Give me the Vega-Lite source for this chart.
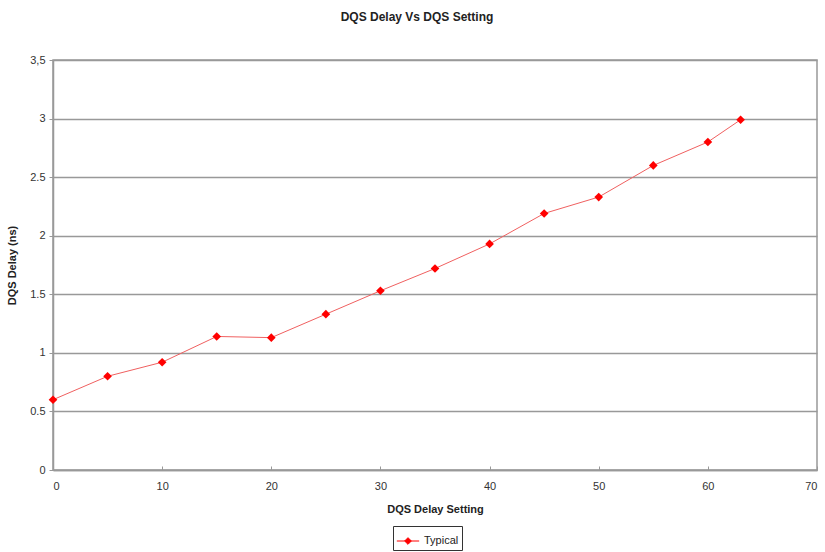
{
  "$schema": "https://vega.github.io/schema/vega-lite/v6.json",
  "autosize": {"type": "none"},
  "width": 764,
  "height": 410,
  "padding": {"left": 53, "top": 60, "right": 8, "bottom": 82},
  "background": "white",
  "title": {
    "text": "DQS Delay Vs DQS Setting",
    "font": "Liberation Sans",
    "fontSize": 12,
    "fontWeight": "bold",
    "color": "#222",
    "anchor": "middle",
    "dx": -18,
    "offset": 30
  },
  "config": {
    "view": {"stroke": "#999", "strokeWidth": 1.5},
    "axis": {
      "labelFont": "Liberation Sans",
      "labelFontSize": 11,
      "labelColor": "#333",
      "titleFont": "Liberation Sans",
      "titleFontSize": 11,
      "titleFontWeight": "bold",
      "titleColor": "#222",
      "domainColor": "#999",
      "domainWidth": 1.5,
      "tickColor": "#999"
    }
  },
  "data": {
    "values": [
      {"setting": 0, "delay": 0.60, "series": "Typical"},
      {"setting": 5, "delay": 0.80, "series": "Typical"},
      {"setting": 10, "delay": 0.92, "series": "Typical"},
      {"setting": 15, "delay": 1.14, "series": "Typical"},
      {"setting": 20, "delay": 1.13, "series": "Typical"},
      {"setting": 25, "delay": 1.33, "series": "Typical"},
      {"setting": 30, "delay": 1.53, "series": "Typical"},
      {"setting": 35, "delay": 1.72, "series": "Typical"},
      {"setting": 40, "delay": 1.93, "series": "Typical"},
      {"setting": 45, "delay": 2.19, "series": "Typical"},
      {"setting": 50, "delay": 2.33, "series": "Typical"},
      {"setting": 55, "delay": 2.60, "series": "Typical"},
      {"setting": 60, "delay": 2.80, "series": "Typical"},
      {"setting": 63, "delay": 2.99, "series": "Typical"}
    ]
  },
  "encoding": {
    "x": {
      "field": "setting",
      "type": "quantitative",
      "scale": {"domain": [0, 70], "nice": false, "zero": true},
      "axis": {
        "title": "DQS Delay Setting",
        "values": [0, 10, 20, 30, 40, 50, 60, 70],
        "grid": false,
        "tickSize": -4,
        "labelPadding": 14,
        "titlePadding": 12
      }
    },
    "y": {
      "field": "delay",
      "type": "quantitative",
      "scale": {"domain": [0, 3.5], "nice": false},
      "axis": {
        "title": "DQS Delay (ns)",
        "values": [0, 0.5, 1, 1.5, 2, 2.5, 3, 3.5],
        "grid": true,
        "gridColor": "#999",
        "gridWidth": 1.5,
        "gridOpacity": 1,
        "tickSize": 4,
        "labelPadding": 4,
        "titlePadding": 12,
        "labelExpr": "datum.value == 3.5 ? '3,5' : toString(datum.value)"
      }
    },
    "color": {
      "field": "series",
      "type": "nominal",
      "scale": {"range": ["#ff0000"]},
      "legend": {
        "title": null,
        "orient": "none",
        "legendX": 340,
        "legendY": 466,
        "strokeColor": "#333",
        "padding": 3,
        "labelFont": "Liberation Sans",
        "labelFontSize": 11,
        "labelColor": "#222",
        "symbolType": "M-1,0H1M0,-0.3L0.3,0L0,0.3L-0.3,0Z",
        "symbolSize": 500,
        "symbolStrokeWidth": 1,
        "symbolStrokeColor": "#ff0000",
        "symbolFillColor": "#ff0000"
      }
    }
  },
  "layer": [
    {
      "mark": {"type": "line", "strokeWidth": 1, "color": "#f06060"},
      "encoding": {"color": {"value": "#f06060"}}
    },
    {
      "mark": {"type": "point", "shape": "diamond", "filled": true, "size": 75, "opacity": 1}
    }
  ]
}
